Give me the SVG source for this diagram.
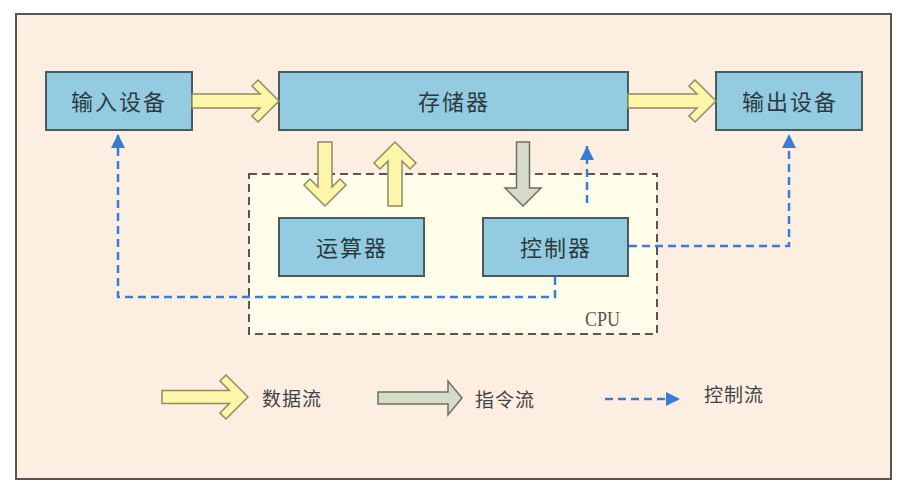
<svg xmlns="http://www.w3.org/2000/svg" width="910" height="491" viewBox="0 0 910 491">
<defs>
<style>
.node rect{fill:#93cbe0;stroke:#4b5a5e;stroke-width:2}
.node text{font-family:"Noto Sans CJK SC","Noto Sans",sans-serif;font-size:22px;fill:#2c3a40;text-anchor:middle;dominant-baseline:central;letter-spacing:2px}
.data{fill:#fdf6aa;stroke:#8d8c62;stroke-width:1.5;stroke-linejoin:miter}
.instr{fill:#d6dac8;stroke:#6e6f64;stroke-width:1.5}
.ctrl{fill:none;stroke:#3a7bd5;stroke-width:2.5;stroke-dasharray:8 5}
.legend{font-family:"Noto Sans CJK SC","Noto Sans",sans-serif;font-size:19px;fill:#444;dominant-baseline:central;letter-spacing:1px}
</style>
<marker id="ah" viewBox="0 0 10 10" refX="10" refY="5" markerWidth="5.6" markerHeight="5.6" orient="auto" markerUnits="strokeWidth">
<path d="M0,0 L10,5 L0,10 Z" fill="#3a7bd5"/>
</marker>
</defs>
<rect x="0" y="0" width="910" height="491" fill="#ffffff"/>
<rect id="frame" x="16" y="14" width="875" height="465" fill="#fdeee2" stroke="#555" stroke-width="2"/>
<g id="cpu">
<rect x="249" y="174" width="408" height="160" fill="#fefde9" stroke="#555" stroke-width="2" stroke-dasharray="8 5"/>
<text x="585" y="326" font-family="Liberation Serif,serif" font-size="22" fill="#555" textLength="35" lengthAdjust="spacingAndGlyphs">CPU</text>
</g>
<g id="input" class="node"><rect x="46" y="72" width="146" height="58"/><text x="119" y="100">输入设备</text></g>
<g id="memory" class="node"><rect x="279" y="72" width="349" height="58"/><text x="454" y="100">存储器</text></g>
<g id="output" class="node"><rect x="716" y="72" width="146" height="58"/><text x="790" y="100">输出设备</text></g>
<g id="alu" class="node"><rect x="279" y="218" width="145" height="58"/><text x="352" y="246">运算器</text></g>
<g id="control" class="node"><rect x="483" y="218" width="145" height="58"/><text x="556" y="246">控制器</text></g>
<g id="connectors">
<polygon class="data" points="192,94 260,94 252,86 258,80 279,101 258,122 252,116 260,108 192,108"/>
<polygon class="data" points="628,94 697,94 689,86 695,80 716,101 695,122 689,116 697,108 628,108"/>
<polygon class="data" points="318,142 318,187 310,179 304,185 325,206 346,185 340,179 332,187 332,142"/>
<polygon class="data" points="388,206 388,161 380,169 374,163 395,142 416,163 410,169 402,161 402,206"/>
<polygon class="instr" points="516.5,142 529.5,142 529.5,188 541,188 523,206 505,188 516.5,188"/>
<path class="ctrl" d="M587,203 V146" marker-end="url(#ah)"/>
<path class="ctrl" d="M555,277 V297 H118 V134" marker-end="url(#ah)"/>
<path class="ctrl" d="M629,246 H789 V134" marker-end="url(#ah)"/>
</g>
<g id="legend">
<polygon class="data" points="162,390.5 229.5,390.5 220,381 226,375 248,397 226,419 220,413 229.5,403.5 162,403.5"/>
<text class="legend" x="262" y="397">数据流</text>
<polygon class="instr" points="378,392 448,392 448,381 462,398 448,415 448,404 378,404"/>
<text class="legend" x="475" y="398">指令流</text>
<path class="ctrl" d="M605,399 H680" marker-end="url(#ah)"/>
<text class="legend" x="704" y="393">控制流</text>
</g>
</svg>
